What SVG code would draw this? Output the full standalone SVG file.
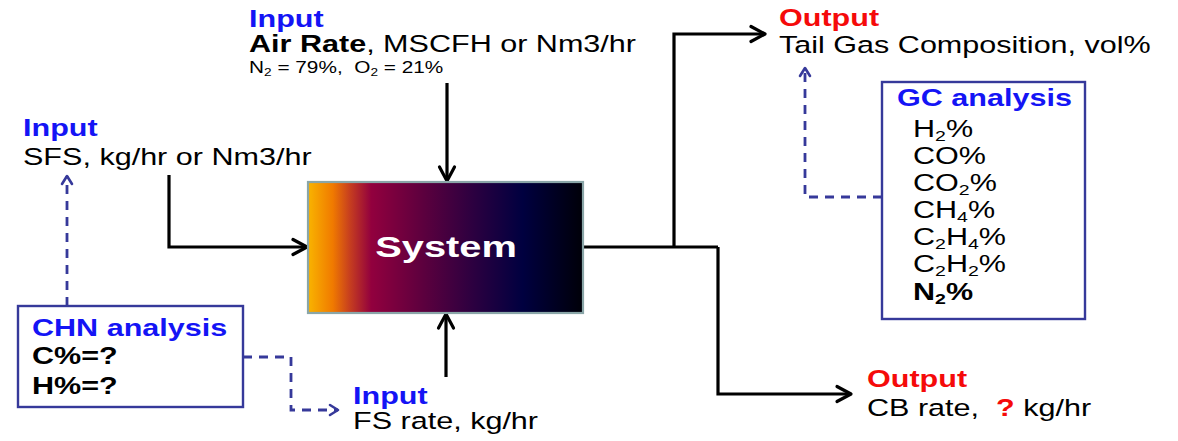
<svg xmlns="http://www.w3.org/2000/svg" width="1178" height="441" viewBox="0 0 1178 441">
<defs>
<linearGradient id="sysGrad" x1="0" y1="0" x2="1" y2="0">
<stop offset="0" stop-color="#f9b400"/>
<stop offset="0.09" stop-color="#f07a00"/>
<stop offset="0.15" stop-color="#c8401e"/>
<stop offset="0.23" stop-color="#92003e"/>
<stop offset="0.42" stop-color="#5c003e"/>
<stop offset="0.6" stop-color="#2c0040"/>
<stop offset="0.78" stop-color="#000040"/>
<stop offset="1" stop-color="#000008"/>
</linearGradient>
<marker id="arrBlack" markerUnits="userSpaceOnUse" markerWidth="20" markerHeight="20" viewBox="0 0 20 20" refX="17" refY="10" orient="auto">
<path d="M3,2.5 L17,10 L3,17.5" fill="none" stroke="#000" stroke-width="3.2" stroke-linecap="round" stroke-linejoin="round"/>
</marker>
<marker id="arrNavy" markerUnits="userSpaceOnUse" markerWidth="14" markerHeight="14" viewBox="0 0 14 14" refX="11" refY="7" orient="auto">
<path d="M3,2 L11,7 L3,12" fill="none" stroke="#36399a" stroke-width="2.6" stroke-linecap="round" stroke-linejoin="round"/>
</marker>
</defs>
<style>
text { font-family: "Liberation Sans", Arial, sans-serif; font-size: 23.5px; fill: #000; }
.b { font-weight: bold; }
.blue { fill: #1414f5; font-weight: bold; }
.red { fill: #f50a0a; font-weight: bold; }
.small { font-size: 16px; }
.sub { font-size: 15px; }
.flow { fill: none; stroke: #000; stroke-width: 3.2; marker-end: url(#arrBlack); }
.flowplain { fill: none; stroke: #000; stroke-width: 3.2; }
.dash { fill: none; stroke: #36399a; stroke-width: 2.8; stroke-dasharray: 9 7; marker-end: url(#arrNavy); }
.abox { fill: #fff; stroke: #36399a; stroke-width: 2.4; }
</style>

<g id="connectors">
<path class="flow" d="M169,175 V247 H307"/>
<path class="flow" d="M447,83 V181"/>
<path class="flow" d="M446,377 V314"/>
<path class="flowplain" d="M584,247 H718"/>
<path class="flow" d="M674,247 V34 H765"/>
<path class="flow" d="M718,247 V394 H851"/>
<path class="dash" d="M67,306 V176"/>
<path class="dash" d="M243,357 H291 V410 H338"/>
<path class="dash" d="M882,197 H805 V68"/>
</g>

<g id="system">
<rect x="308" y="182" width="275" height="131" fill="url(#sysGrad)" stroke="#8aa6a8" stroke-width="2.2"/>
<text class="b" transform="translate(446 257) scale(1.35 1)" text-anchor="middle" style="font-size:29.5px; fill:#fff">System</text>
</g>

<g id="input-air">
<text class="blue" transform="translate(249 27) scale(1.3 1)">Input</text>
<text transform="translate(249 52) scale(1.3 1)"><tspan class="b">Air Rate</tspan>, MSCFH or Nm3/hr</text>
<text class="small" transform="translate(249 73) scale(1.3 1)">N<tspan dy="3" style="font-size:10.5px">2</tspan><tspan dy="-3"> = 79%,&#160; O</tspan><tspan dy="3" style="font-size:10.5px">2</tspan><tspan dy="-3"> = 21%</tspan></text>
</g>

<g id="input-sfs">
<text class="blue" transform="translate(23 136) scale(1.3 1)">Input</text>
<text transform="translate(23 165) scale(1.3 1)">SFS, kg/hr or Nm3/hr</text>
</g>

<g id="chn-analysis">
<rect class="abox" x="18" y="306" width="225" height="101"/>
<text class="blue" transform="translate(32 336) scale(1.3 1)">CHN analysis</text>
<text class="b" transform="translate(32 364) scale(1.3 1)">C%=?</text>
<text class="b" transform="translate(32 394) scale(1.3 1)">H%=?</text>
</g>

<g id="input-fs">
<text class="blue" transform="translate(353 404) scale(1.3 1)">Input</text>
<text transform="translate(353 429) scale(1.3 1)">FS rate, kg/hr</text>
</g>

<g id="output-tailgas">
<text class="red" transform="translate(779 26) scale(1.3 1)">Output</text>
<text transform="translate(779 53) scale(1.3 1)">Tail Gas Composition, vol%</text>
</g>

<g id="gc-analysis">
<rect class="abox" x="882" y="82" width="203" height="237"/>
<text class="blue" transform="translate(897 106) scale(1.3 1)">GC analysis</text>
<text transform="translate(913 137) scale(1.3 1)">H<tspan class="sub" dy="4">2</tspan><tspan dy="-4">%</tspan></text>
<text transform="translate(913 164) scale(1.3 1)">CO%</text>
<text transform="translate(913 191) scale(1.3 1)">CO<tspan class="sub" dy="4">2</tspan><tspan dy="-4">%</tspan></text>
<text transform="translate(913 218) scale(1.3 1)">CH<tspan class="sub" dy="4">4</tspan><tspan dy="-4">%</tspan></text>
<text transform="translate(913 245) scale(1.3 1)">C<tspan class="sub" dy="4">2</tspan><tspan dy="-4">H</tspan><tspan class="sub" dy="4">4</tspan><tspan dy="-4">%</tspan></text>
<text transform="translate(913 272) scale(1.3 1)">C<tspan class="sub" dy="4">2</tspan><tspan dy="-4">H</tspan><tspan class="sub" dy="4">2</tspan><tspan dy="-4">%</tspan></text>
<text class="b" transform="translate(913 300) scale(1.3 1)">N<tspan class="sub" dy="4">2</tspan><tspan dy="-4">%</tspan></text>
</g>

<g id="output-cb">
<text class="red" transform="translate(867 387) scale(1.3 1)">Output</text>
<text transform="translate(867 416) scale(1.3 1)">CB rate,&#160; <tspan class="red">?</tspan> kg/hr</text>
</g>
</svg>
